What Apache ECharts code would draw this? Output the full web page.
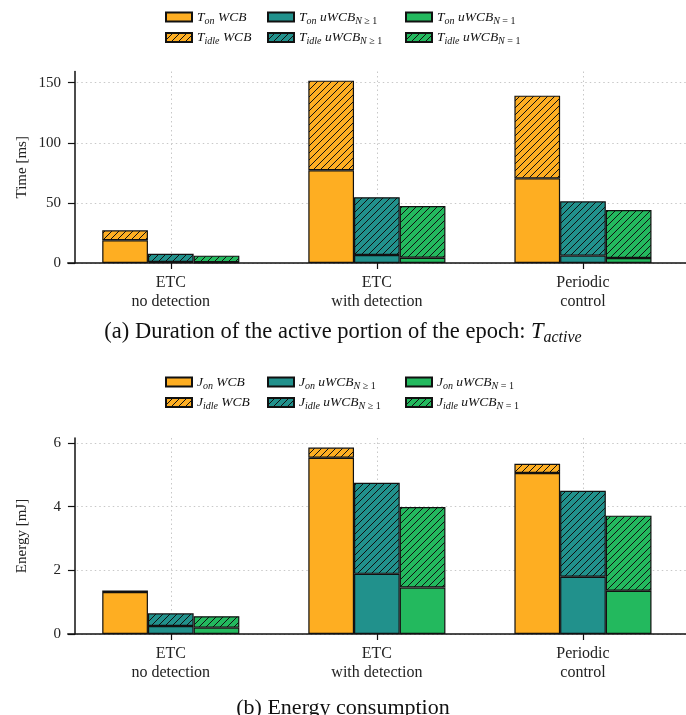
<!DOCTYPE html>
<html><head><meta charset="utf-8">
<script src="https://cdn.jsdelivr.net/npm/echarts@6/dist/echarts.min.js"></script>
<style>html,body{margin:0;padding:0;background:#fff}#c{width:686px;height:715px}</style>
</head><body><div id="c"></div>
<script>
// ---- data ----
const categories = ['ETC\nno detection', 'ETC\nwith detection', 'Periodic\ncontrol'];
// Top chart: time [ms]
const tOnWCB   = [18.9, 77.1, 70.4];
const tIdleWCB = [8.3, 74.6, 68.8];
const tOnGe1   = [0.8, 6.7, 6.1];
const tIdleGe1 = [6.9, 48.0, 45.2];
const tOnEq1   = [0.6, 4.4, 4.2];
const tIdleEq1 = [5.5, 43.0, 39.9];
// Bottom chart: energy [mJ]
const jOnWCB   = [1.32, 5.54, 5.06];
const jIdleWCB = [0.05, 0.32, 0.29];
const jOnGe1   = [0.25, 1.89, 1.80];
const jIdleGe1 = [0.40, 2.86, 2.70];
const jOnEq1   = [0.20, 1.46, 1.36];
const jIdleEq1 = [0.36, 2.53, 2.36];
const topTicks = [0, 50, 100, 150];
const bottomTicks = [0, 2, 4, 6];
const catPositions = [0, 1, 2];

// ---- styling ----
const SERIF = 'Liberation Serif';
const ORANGE = '#FEAE22', TEAL = '#21918C', GREEN = '#23B95E';

function hatch(color) {
  const S = 7;
  const c = document.createElement('canvas');
  c.width = S; c.height = S;
  const g = c.getContext('2d');
  g.fillStyle = color; g.fillRect(0, 0, S, S);
  g.strokeStyle = '#111'; g.lineWidth = 1;
  g.beginPath();
  g.moveTo(0, S); g.lineTo(S, 0);
  g.moveTo(-1, 1); g.lineTo(1, -1);
  g.moveTo(S - 1, S + 1); g.lineTo(S + 1, S - 1);
  g.stroke();
  return { image: c, repeat: 'repeat' };
}

const rich = {
  i: { fontFamily: SERIF, fontStyle: 'italic', fontSize: 13.5, lineHeight: 18, color: '#111' },
  s: { fontFamily: SERIF, fontStyle: 'italic', fontSize: 10, lineHeight: 10, verticalAlign: 'bottom', color: '#111' },
  n: { fontFamily: SERIF, fontSize: 10, lineHeight: 10, verticalAlign: 'bottom', color: '#111' }
};

function seriesDefs(prefix, on1, idle1, on2, idle2, on3, idle3, xi, yi) {
  const mk = (name, vals, stack, fill) => ({
    type: 'bar', name, stack: prefix + stack, xAxisIndex: xi, yAxisIndex: yi,
    barWidth: 45.7, barGap: '0%',
    data: vals,
    itemStyle: { color: fill, borderColor: '#111', borderWidth: 1.2 },
    emphasis: { disabled: true }
  });
  return [
    mk(prefix + '_on WCB', on1, 'a', ORANGE),
    mk(prefix + '_idle WCB', idle1, 'a', hatch(ORANGE)),
    mk(prefix + '_on Ge1', on2, 'b', TEAL),
    mk(prefix + '_idle Ge1', idle2, 'b', hatch(TEAL)),
    mk(prefix + '_on Eq1', on3, 'c', GREEN),
    mk(prefix + '_idle Eq1', idle3, 'c', hatch(GREEN))
  ];
}

function fmtName(n) {
  const [head, kind] = n.split(' ');
  const [sym, sub] = head.split('_');
  let s = '{i|' + sym + '}{s|' + sub + '} ';
  if (kind === 'WCB') s += '{i|WCB}';
  else if (kind === 'Ge1') s += '{i|uWCB}{s|N}{n| ≥ 1}';
  else s += '{i|uWCB}{s|N}{n| = 1}';
  return s;
}

function legend(prefix, kind, left, top) {
  return {
    orient: 'vertical', left, top, padding: 0, itemWidth: 26, itemHeight: 9, itemGap: 4.5,
    selectedMode: false, icon: 'rect',
    data: [prefix + '_on ' + kind, prefix + '_idle ' + kind],
    formatter: fmtName,
    textStyle: { fontFamily: SERIF, fontSize: 13.5, color: '#111', rich }
  };
}

// hidden category axis carries the bars; a value axis on the same grid draws line, ticks, labels, grid
function catAxis(gi) {
  return { type: 'category', gridIndex: gi, data: categories, show: false };
}
function xAxis(gi) {
  return {
    type: 'value', gridIndex: gi, min: -0.5, max: 2.5, position: 'bottom',
    axisLine: { show: true, onZero: false, lineStyle: { color: '#111', width: 1.5 } },
    axisTick: { show: true, length: 6, customValues: catPositions, lineStyle: { color: '#111', width: 1.2 } },
    axisLabel: { customValues: catPositions, formatter: v => categories[Math.round(v)],
      fontFamily: SERIF, fontSize: 16, lineHeight: 19, color: '#222', margin: 10 },
    splitLine: { show: true, lineStyle: { color: '#c8c8c8', type: [1.5, 3], width: 1 } }
  };
}
function yAxis(gi, max, ticks, name) {
  return {
    type: 'value', gridIndex: gi, min: 0, max, offset: -7.25,
    name, nameLocation: 'middle', nameGap: 45, nameMoveOverlap: false,
    nameTextStyle: { fontFamily: SERIF, fontSize: 15, color: '#222' },
    axisLine: { show: true, onZero: false, lineStyle: { color: '#111', width: 1.5 } },
    axisTick: { show: true, length: 7, customValues: ticks, lineStyle: { color: '#111', width: 1.2 } },
    axisLabel: { customValues: ticks, fontFamily: SERIF, fontSize: 15, color: '#222', margin: 14 },
    splitLine: { show: true, lineStyle: { color: '#c8c8c8', type: [1.5, 3], width: 1 } }
  };
}

const option = {
  animation: false,
  backgroundColor: '#fff',
  title: [
    { text: '(a) Duration of the active portion of the epoch: {m|T}{ms|active}', left: 'center', top: 313,
      textStyle: { fontFamily: SERIF, fontSize: 22.5, fontWeight: 'normal', color: '#111', lineHeight: 28,
        rich: { m: { fontFamily: SERIF, fontStyle: 'italic', fontSize: 22.5, lineHeight: 28, color: '#111' },
                ms: { fontFamily: SERIF, fontStyle: 'italic', fontSize: 16, lineHeight: 16, verticalAlign: 'bottom', color: '#111' } } } },
    { text: '(b) Energy consumption', left: 'center', top: 692,
      textStyle: { fontFamily: SERIF, fontSize: 22, fontWeight: 'normal', color: '#111' } }
  ],
  legend: [
    legend('T', 'WCB', 165, 10), legend('T', 'Ge1', 267, 10), legend('T', 'Eq1', 405, 10),
    legend('J', 'WCB', 165, 375), legend('J', 'Ge1', 267, 375), legend('J', 'Eq1', 405, 375)
  ],
  grid: [
    { left: 67.75, width: 619.5, top: 71.5, height: 191.5 },
    { left: 67.75, width: 619.5, top: 438, height: 196 }
  ],
  xAxis: [catAxis(0), xAxis(0), catAxis(1), xAxis(1)],
  yAxis: [yAxis(0, 159.3, topTicks, 'Time [ms]'), yAxis(1, 6.16, bottomTicks, 'Energy [mJ]')],
  series: [
    ...seriesDefs('T', tOnWCB, tIdleWCB, tOnGe1, tIdleGe1, tOnEq1, tIdleEq1, 0, 0),
    ...seriesDefs('J', jOnWCB, jIdleWCB, jOnGe1, jIdleGe1, jOnEq1, jIdleEq1, 2, 1)
  ]
};
const chart = echarts.init(document.getElementById('c'), null, { renderer: 'canvas' });
chart.setOption(option);
</script>
</body></html>
